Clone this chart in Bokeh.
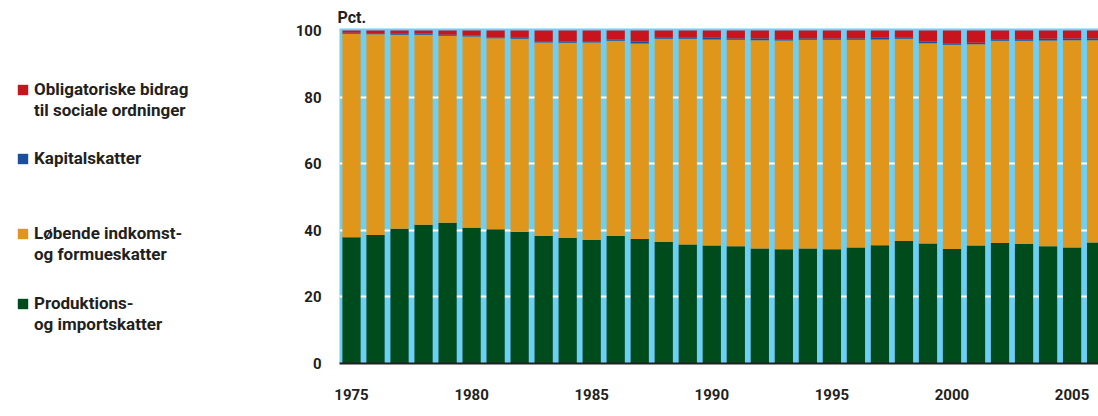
from bokeh.plotting import figure
from bokeh.models import Range1d, FixedTicker, Legend, LegendItem, ColumnDataSource
from bokeh.layouts import row
from bokeh.embed import file_html
from bokeh.resources import INLINE

years = list(range(1975, 2007))
produktion = [37.9, 38.6, 40.5, 41.7, 42.3, 40.8, 40.3, 39.6, 38.3, 37.7,
              37.1, 38.3, 37.4, 36.5, 35.7, 35.4, 35.2, 34.5, 34.3, 34.5,
              34.3, 34.8, 35.5, 36.8, 36.0, 34.4, 35.4, 36.2, 35.9, 35.2,
              34.8, 36.3]
kapital = [0.3, 0.3, 0.3, 0.4, 0.3, 0.3, 0.2, 0.3, 0.4, 0.4,
           0.4, 0.4, 0.6, 0.5, 0.5, 0.5, 0.4, 0.5, 0.4, 0.4,
           0.4, 0.4, 0.5, 0.3, 0.5, 0.5, 0.4, 0.5, 0.5, 0.5,
           0.5, 0.5]
sociale = [0.7, 0.8, 1.0, 0.9, 1.3, 1.5, 2.1, 2.2, 3.2, 3.3,
           3.2, 2.7, 3.3, 2.0, 2.0, 2.2, 2.4, 2.4, 2.6, 2.4,
           2.4, 2.4, 2.2, 2.2, 3.3, 3.8, 3.7, 2.6, 2.6, 2.5,
           2.4, 2.4]
loebende = [round(100 - a - b - c, 1) for a, b, c in zip(produktion, kapital, sociale)]

series = ["produktion", "loebende", "kapital", "sociale"]
colors = ["#004b1c", "#e0961a", "#1a4f9e", "#c8151d"]
label_lines = [["Produktions-", "og importskatter"],
               ["Løbende indkomst-", "og formueskatter"],
               ["Kapitalskatter"],
               ["Obligatoriske bidrag", "til sociale ordninger"]]
xticks = [1975, 1980, 1985, 1990, 1995, 2000, 2005]

src = ColumnDataSource(dict(year=years, produktion=produktion, loebende=loebende,
                            kapital=kapital, sociale=sociale))

FONT = "Roboto"
TXT = "#231f20"
LEG_W = 250

# ---- main chart ----
p = figure(width=1098 - LEG_W, height=416, x_range=Range1d(1974.5, 2006.1),
           y_range=Range1d(0, 100.6), output_backend="svg", toolbar_location=None,
           min_border_left=339 - LEG_W, min_border_right=0, min_border_top=28,
           min_border_bottom=53, title="Pct.")
p.outline_line_color = None
p.background_fill_color = "#6dcff6"
p.border_fill_color = "white"
p.title.align = "left"
p.title.offset = -2
p.title.standoff = 3
p.title.text_font = FONT
p.title.text_font_style = "bold"
p.title.text_font_size = "16px"
p.title.text_color = TXT

p.vbar_stack(series, x="year", width=0.76, color=colors, line_color=None, source=src)

p.xgrid.grid_line_color = None
p.ygrid.grid_line_color = "white"
p.ygrid.grid_line_width = 2
p.ygrid.ticker = FixedTicker(ticks=[20, 40, 60, 80])

p.xaxis.ticker = FixedTicker(ticks=xticks)
p.xaxis.major_tick_line_color = None
p.xaxis.minor_tick_line_color = None
p.xaxis.axis_line_color = TXT
p.xaxis.axis_line_width = 2
p.xaxis.major_label_standoff = 19
p.xaxis.major_label_text_font = FONT
p.xaxis.major_label_text_font_style = "bold"
p.xaxis.major_label_text_font_size = "15px"
p.xaxis.major_label_text_color = TXT

p.yaxis.ticker = FixedTicker(ticks=[0, 20, 40, 60, 80, 100])
p.yaxis.major_tick_line_color = None
p.yaxis.minor_tick_line_color = None
p.yaxis.axis_line_color = None
p.yaxis.major_label_standoff = 12
p.yaxis.major_label_text_font = FONT
p.yaxis.major_label_text_font_style = "bold"
p.yaxis.major_label_text_font_size = "15px"
p.yaxis.major_label_text_color = TXT

# ---- legend panel ----
lg = figure(width=LEG_W, height=416, output_backend="svg", toolbar_location=None,
            x_axis_location=None, y_axis_location=None,
            x_range=Range1d(0, 1), y_range=Range1d(0, 1),
            min_border_left=0, min_border_top=28, min_border_right=0,
            min_border_bottom=53)
lg.outline_line_color = None
lg.grid.grid_line_color = None
proxies = [lg.vbar(x="year", top=s, width=0.76, color=c, line_color=None, source=src)
           for s, c in zip(series, colors)]
blank = lg.vbar(x=[], top=[], width=0.76, fill_alpha=0, line_alpha=0)

common = dict(orientation="vertical", border_line_color=None, background_fill_alpha=0,
              padding=0, margin=0, spacing=1, glyph_width=13, glyph_height=13,
              label_standoff=5, label_height=20,
              label_text_font=FONT, label_text_font_style="bold",
              label_text_font_size="17px", label_text_color=TXT,
              label_text_line_height=1.2)
leg_y = [29, 99, 195, 243]   # bottom offsets of each legend block (px from frame bottom)
for lines, r, ly in zip(label_lines, proxies, leg_y):
    its = [LegendItem(label=lines[0], renderers=[r])]
    its += [LegendItem(label=t, renderers=[blank]) for t in lines[1:]]
    lg.add_layout(Legend(items=its, location=(16, ly), **common))

layout = row(lg, p)
open("out.html", "w").write(file_html(layout, INLINE))
